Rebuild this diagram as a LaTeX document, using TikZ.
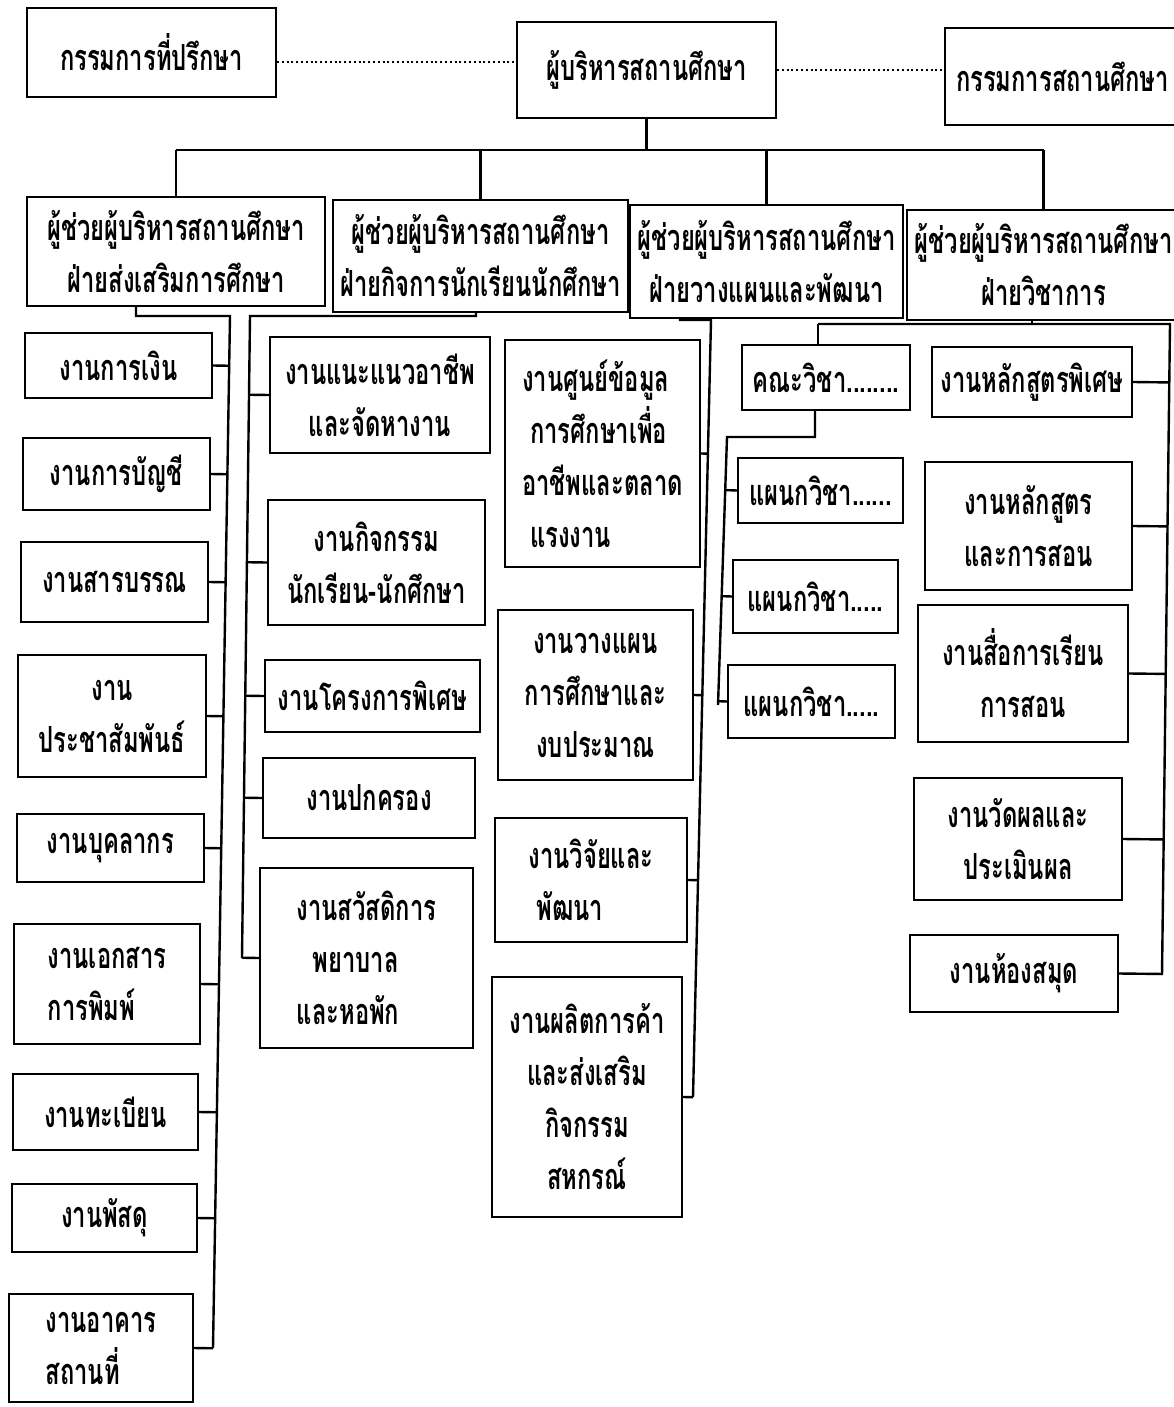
\documentclass[tikz,border=0pt]{standalone}
\usepackage{fontspec}
\newfontfamily\thai[Script=Thai,FakeStretch=0.66]{Loma}
\usetikzlibrary{calc}
\newcommand\bx[7]{%
  \pgfmathsetmacro\bxw{(#4-#2)*0.5}%
  \pgfmathsetmacro\bxh{(#5-#3)*0.5}%
  \node[box,align=#6,minimum width=\bxw pt,minimum height=\bxh pt] (#1) at ({(#2+#4)/2},{(#3+#5)/2}) {#7};}
\begin{document}
\begin{tikzpicture}[x=0.5pt,y=-0.5pt,
  box/.style={draw,line width=1pt,inner sep=0pt,font=\thai\bfseries\fontsize{18pt}{26pt}\selectfont},
  conn/.style={line width=1.2pt},
  dots/.style={line width=1pt,dash pattern=on 1pt off 1.4pt}]
\useasboundingbox (0,0) rectangle (1173,1407);
% top row
\bx{A}{27}{8}{276}{97}{center}{กรรมการที่ปรึกษา}
\bx{B}{517}{22}{776}{118}{center}{ผู้บริหารสถานศึกษา}
\bx{C}{945}{28}{1180}{125}{center}{กรรมการสถานศึกษา}
% assistants
\bx{D1}{27}{197}{325}{306}{center}{ผู้ช่วยผู้บริหารสถานศึกษา\\ฝ่ายส่งเสริมการศึกษา}
\bx{D2}{333}{200}{628}{312}{center}{ผู้ช่วยผู้บริหารสถานศึกษา\\ฝ่ายกิจการนักเรียนนักศึกษา}
\bx{D3}{630}{205}{903}{318}{center}{ผู้ช่วยผู้บริหารสถานศึกษา\\ฝ่ายวางแผนและพัฒนา}
\bx{D4}{907}{210}{1180}{320}{center}{ผู้ช่วยผู้บริหารสถานศึกษา\\ฝ่ายวิชาการ}
% column 1
\bx{L1}{25}{333}{212}{398}{center}{งานการเงิน}
\bx{L2}{23}{438}{210}{510}{center}{งานการบัญชี}
\bx{L3}{21}{542}{208}{622}{center}{งานสารบรรณ}
\bx{L4}{18}{655}{206}{777}{center}{งาน\\ประชาสัมพันธ์}
\bx{L5}{17}{814}{204}{882}{center}{งานบุคลากร}
\bx{L6}{14}{924}{200}{1044}{left}{งานเอกสาร\\การพิมพ์}
\bx{L7}{13}{1074}{198}{1150}{center}{งานทะเบียน}
\bx{L8}{12}{1184}{197}{1252}{center}{งานพัสดุ}
\bx{L9}{9}{1294}{193}{1402}{left}{งานอาคาร\\สถานที่}
% column 2
\bx{S1}{270}{337}{490}{453}{center}{งานแนะแนวอาชีพ\\และจัดหางาน}
\bx{S2}{268}{500}{485}{625}{center}{งานกิจกรรม\\นักเรียน-นักศึกษา}
\bx{S3}{265}{660}{480}{732}{center}{งานโครงการพิเศษ}
\bx{S4}{263}{758}{475}{838}{center}{งานปกครอง}
\bx{S5}{260}{868}{473}{1048}{left}{งานสวัสดิการ\\\hspace{8pt}พยาบาล\\และหอพัก}
% column 3
\bx{T1}{505}{340}{700}{567}{left}{งานศูนย์ข้อมูล\\\hspace{4pt}การศึกษาเพื่อ\\อาชีพและตลาด\\\hspace{4pt}แรงงาน}
\bx{T2}{498}{610}{693}{780}{center}{งานวางแผน\\การศึกษาและ\\งบประมาณ}
\bx{T3}{495}{818}{687}{942}{left}{งานวิจัยและ\\\hspace{4pt}พัฒนา}
\bx{T4}{492}{977}{682}{1217}{center}{งานผลิตการค้า\\และส่งเสริม\\กิจกรรม\\สหกรณ์}
% column 4
\bx{K}{742}{345}{910}{410}{center}{คณะวิชา........}
\bx{P1}{738}{458}{903}{523}{center}{แผนกวิชา......}
\bx{P2}{733}{560}{898}{633}{center}{แผนกวิชา.....}
\bx{P3}{728}{665}{895}{738}{center}{แผนกวิชา.....}
% column 5
\bx{H1}{932}{347}{1132}{417}{center}{งานหลักสูตรพิเศษ}
\bx{H2}{925}{462}{1132}{590}{center}{งานหลักสูตร\\และการสอน}
\bx{H3}{918}{605}{1128}{742}{center}{งานสื่อการเรียน\\การสอน}
\bx{H4}{914}{778}{1122}{900}{center}{งานวัดผลและ\\ประเมินผล}
\bx{H5}{910}{935}{1118}{1012}{center}{งานห้องสมุด}
% dotted links
\draw[dots] (A.east |- 0,62) -- (B.west |- 0,62);
\draw[dots] (B.east |- 0,70) -- (C.west |- 0,70);
% main bus
\coordinate (bus) at (0,150);
\draw[conn] (B.south) -- (B.south |- bus);
\draw[conn] (D1.north |- bus) -- (D4.north |- bus);
\foreach \d in {D1,D2,D3,D4} \draw[conn] (\d.north |- bus) -- (\d.north);
% column 1 spine
\coordinate (s1t) at (230,316); \coordinate (s1b) at (213,1348);
\draw[conn] (D1.south -| 136,0) -- (136,316) -- (s1t) -- (s1b);
\foreach \b in {L1,L2,L3,L4,L5,L6,L7,L8,L9} \draw[conn] (\b.east) -- ($(s1t)!(\b.east)!(s1b)$);
% column 2 spine
\coordinate (s2t) at (250,316); \coordinate (s2b) at (242,958);
\draw[conn] (D2.south -| 476,0) -- (476,316) -- (s2t) -- (s2b);
\foreach \b in {S1,S2,S3,S4,S5} \draw[conn] (\b.west) -- ($(s2t)!(\b.west)!(s2b)$);
% column 3 spine
\coordinate (s3t) at (711,320); \coordinate (s3b) at (693,1097);
\draw[conn] (D3.south -| 680,0) -- (680,320) -- (s3t) -- (s3b);
\foreach \b in {T1,T2,T3,T4} \draw[conn] (\b.east) -- ($(s3t)!(\b.east)!(s3b)$);
% academic branch
\coordinate (s5t) at (1170,324); \coordinate (s5b) at (1162,975);
\draw[conn] (D4.south -| 1032,0) -- (1032,324);
\draw[conn] (818,324) -- (s5t) -- (s5b);
\draw[conn] (818,324) -- (K.north -| 818,0);
\foreach \b in {H1,H2,H3,H4,H5} \draw[conn] (\b.east) -- ($(s5t)!(\b.east)!(s5b)$);
% faculty spine
\coordinate (s4t) at (727,437); \coordinate (s4b) at (718,705);
\draw[conn] (K.south -| 815,0) -- (815,437) -- (s4t) -- (s4b);
\foreach \b in {P1,P2,P3} \draw[conn] (\b.west) -- ($(s4t)!(\b.west)!(s4b)$);
\end{tikzpicture}
\end{document}
